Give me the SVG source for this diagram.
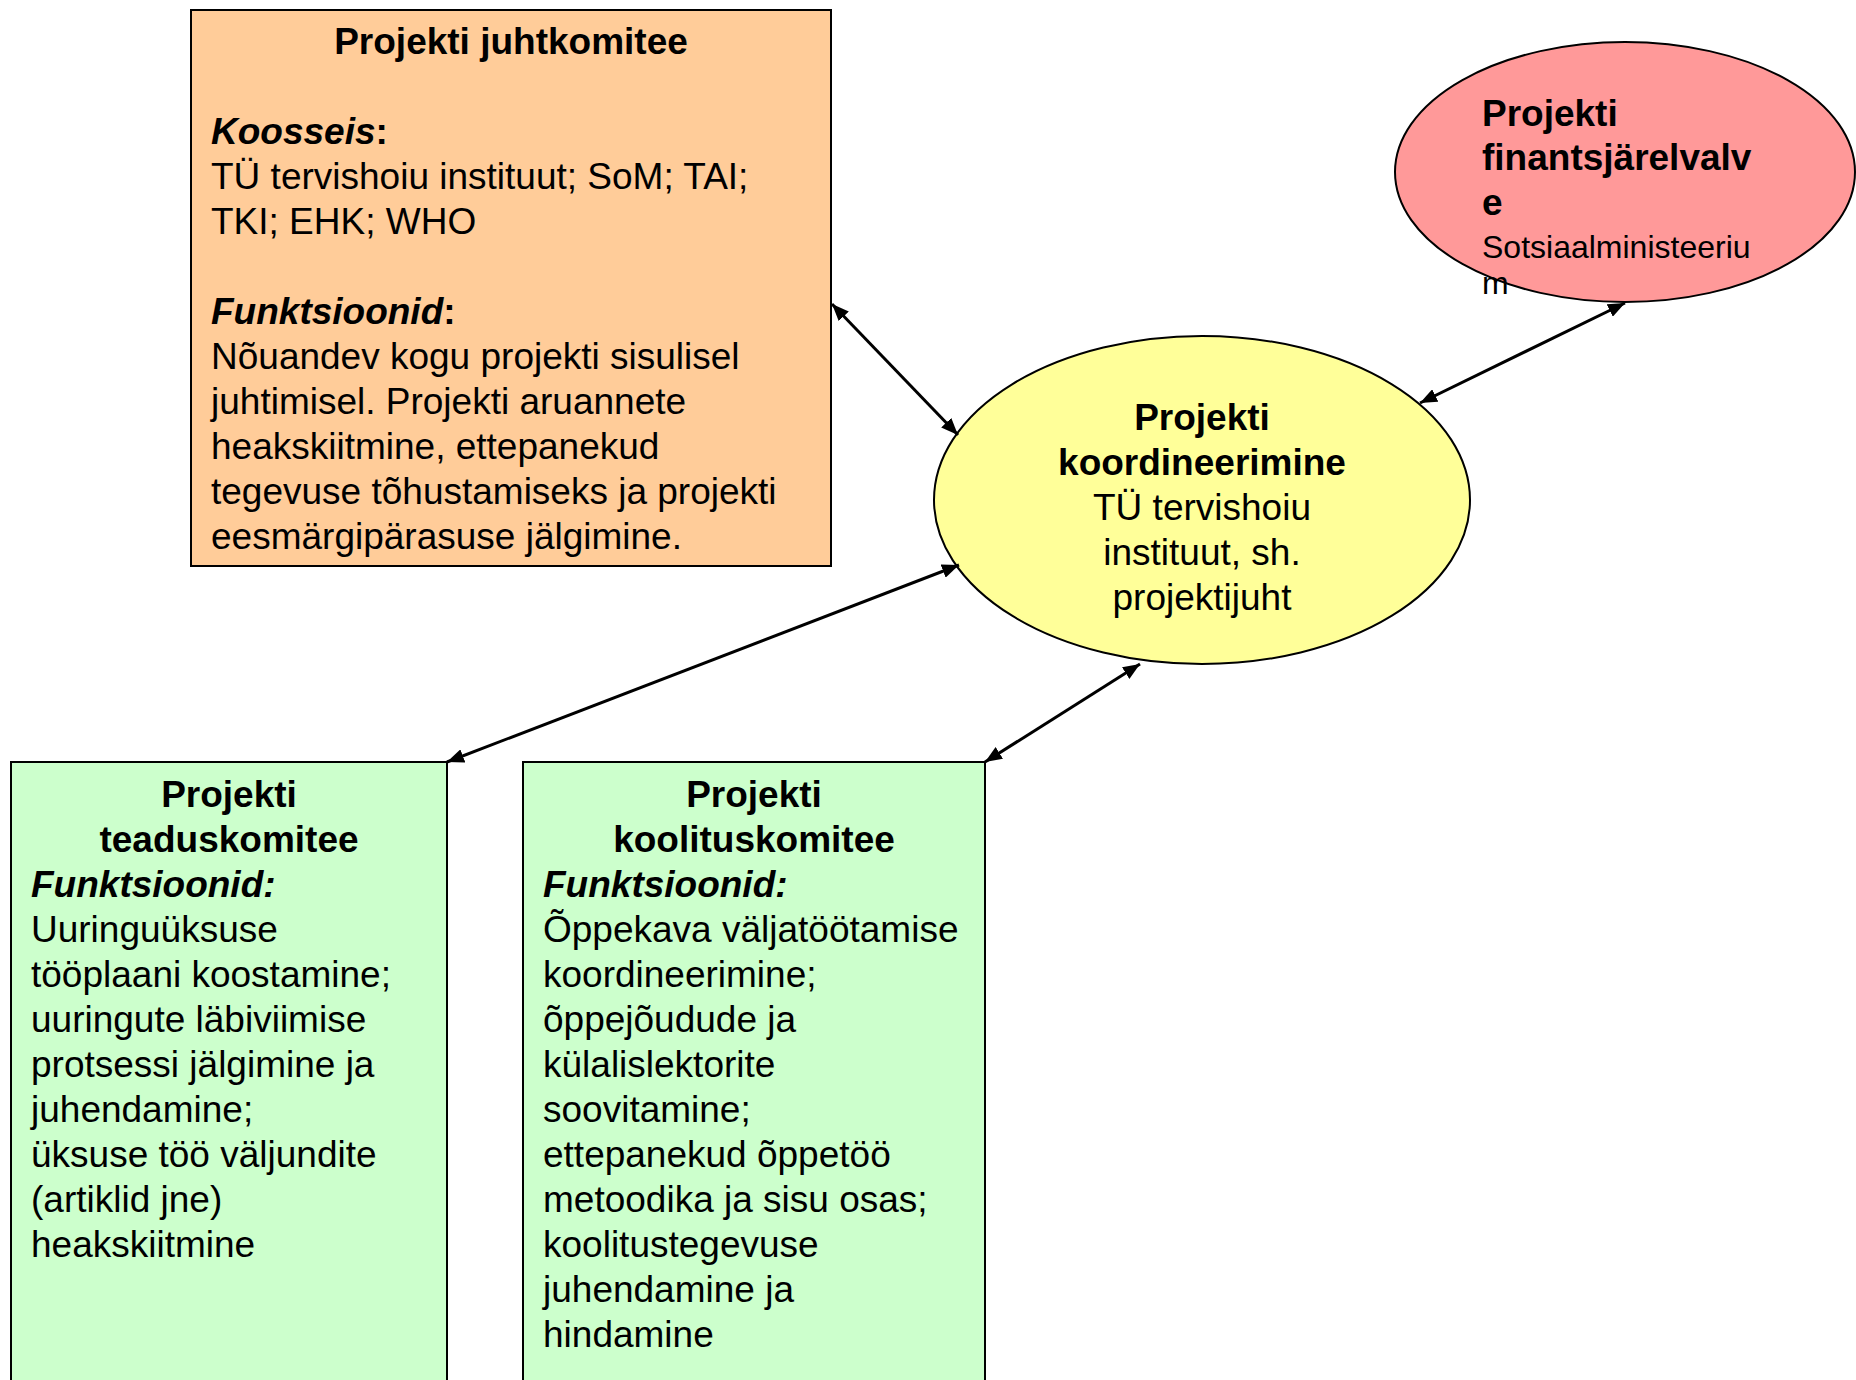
<svg xmlns="http://www.w3.org/2000/svg" width="1856" height="1380" viewBox="0 0 1856 1380">
<style>
text { font-family: "Liberation Sans", Arial, sans-serif; font-size: 37px; fill: #000; }
.b { font-weight: bold; }
.bi { font-weight: bold; font-style: italic; }
.c { text-anchor: middle; }
.s { font-size: 32px; }
.shape { stroke: #000; stroke-width: 2; }
.conn { stroke: #000; stroke-width: 3; fill: none; marker-start: url(#ah); marker-end: url(#ah); }
</style>
<defs>
<marker id="ah" markerUnits="userSpaceOnUse" markerWidth="18" markerHeight="14" refX="17" refY="7" orient="auto-start-reverse">
<path d="M0,0 L17,7 L0,14 z" fill="#000"/>
</marker>
</defs>
<rect width="1856" height="1380" fill="#fff"/>

<g id="juhtkomitee">
<rect class="shape" x="191" y="10" width="640" height="556" fill="#FFCC99"/>
<text class="b c" x="511" y="54">Projekti juhtkomitee</text>
<text x="211" y="144"><tspan class="bi">Koosseis</tspan><tspan class="b">:</tspan></text>
<text x="211" y="189">TÜ tervishoiu instituut; SoM; TAI;</text>
<text x="211" y="234">TKI; EHK; WHO</text>
<text x="211" y="324"><tspan class="bi">Funktsioonid</tspan><tspan class="b">:</tspan></text>
<text x="211" y="369">Nõuandev kogu projekti sisulisel</text>
<text x="211" y="414">juhtimisel. Projekti aruannete</text>
<text x="211" y="459">heakskiitmine, ettepanekud</text>
<text x="211" y="504">tegevuse tõhustamiseks ja projekti</text>
<text x="211" y="549">eesmärgipärasuse jälgimine.</text>
</g>

<g id="finantsjarelvalve">
<ellipse class="shape" cx="1625" cy="172" rx="230" ry="130" fill="#FF9999"/>
<text class="b" x="1482" y="126">Projekti</text>
<text class="b" x="1482" y="170">finantsjärelvalv</text>
<text class="b" x="1482" y="215">e</text>
<text class="s" x="1482" y="258">Sotsiaalministeeriu</text>
<text class="s" x="1482" y="294">m</text>
</g>

<g id="koordineerimine">
<ellipse class="shape" cx="1202" cy="500" rx="268" ry="164" fill="#FFFF99"/>
<text class="b c" x="1202" y="430">Projekti</text>
<text class="b c" x="1202" y="475">koordineerimine</text>
<text class="c" x="1202" y="520">TÜ tervishoiu</text>
<text class="c" x="1202" y="565">instituut, sh.</text>
<text class="c" x="1202" y="610">projektijuht</text>
</g>

<g id="teaduskomitee">
<rect class="shape" x="11" y="762" width="436" height="630" fill="#CCFFCC"/>
<text class="b c" x="229" y="807">Projekti</text>
<text class="b c" x="229" y="852">teaduskomitee</text>
<text class="bi" x="31" y="897">Funktsioonid:</text>
<text x="31" y="942">Uuringuüksuse</text>
<text x="31" y="987">tööplaani koostamine;</text>
<text x="31" y="1032">uuringute läbiviimise</text>
<text x="31" y="1077">protsessi jälgimine ja</text>
<text x="31" y="1122">juhendamine;</text>
<text x="31" y="1167">üksuse töö väljundite</text>
<text x="31" y="1212">(artiklid jne)</text>
<text x="31" y="1257">heakskiitmine</text>
</g>

<g id="koolituskomitee">
<rect class="shape" x="523" y="762" width="462" height="630" fill="#CCFFCC"/>
<text class="b c" x="754" y="807">Projekti</text>
<text class="b c" x="754" y="852">koolituskomitee</text>
<text class="bi" x="543" y="897">Funktsioonid:</text>
<text x="543" y="942">Õppekava väljatöötamise</text>
<text x="543" y="987">koordineerimine;</text>
<text x="543" y="1032">õppejõudude ja</text>
<text x="543" y="1077">külalislektorite</text>
<text x="543" y="1122">soovitamine;</text>
<text x="543" y="1167">ettepanekud õppetöö</text>
<text x="543" y="1212">metoodika ja sisu osas;</text>
<text x="543" y="1257">koolitustegevuse</text>
<text x="543" y="1302">juhendamine ja</text>
<text x="543" y="1347">hindamine</text>
</g>

<g id="connectors">
<line class="conn" x1="832" y1="304" x2="958" y2="435"/>
<line class="conn" x1="1625" y1="303" x2="1420" y2="403"/>
<line class="conn" x1="959" y1="565" x2="447" y2="762"/>
<line class="conn" x1="1140" y1="664" x2="985" y2="762"/>
</g>
</svg>
